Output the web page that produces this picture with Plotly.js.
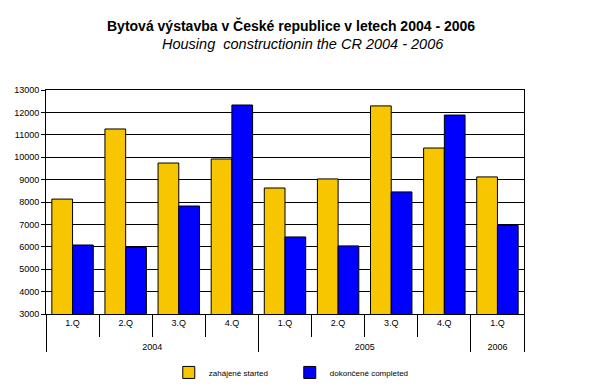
<!DOCTYPE html>
<html><head><meta charset="utf-8">
<script src="https://cdn.plot.ly/plotly-3.0.1.min.js"></script>
<style>body{margin:0;padding:0;background:#fff}#chart{width:600px;height:390px}</style>
</head><body><div id="chart"></div>
<script>
const years = ["2004","2004","2004","2004","2005","2005","2005","2005","2006"];
const quarters = ["1.Q","2.Q","3.Q","4.Q","1.Q","2.Q","3.Q","4.Q","1.Q"];
const started = [8130, 11260, 9740, 9920, 8625, 9030, 12290, 10410, 9120];
const completed = [6080, 5970, 7820, 12330, 6440, 6040, 8450, 11880, 6950];
const seriesNames = ["zahájené started", "dokončené completed"];
const titleLine1 = "Bytová výstavba v České republice v letech 2004 - 2006";
const titleLine2 = "Housing  constructionin the CR 2004 - 2006";

// quarter labels padded with an empty second line so the year row sits lower
const quarterLabels = quarters.map(q => q + "<br>\u00a0");

const font = "Liberation Sans, Arial, sans-serif";
const traces = [
  {type:"bar", name:seriesNames[0], x:[years, quarterLabels], y:started,
   marker:{color:"#F7C600", line:{color:"#000", width:1}}},
  {type:"bar", name:seriesNames[1], x:[years, quarterLabels], y:completed,
   marker:{color:"#0000FF", line:{color:"#000", width:1}}}
];
const layout = {
  width:600, height:390,
  margin:{l:46, r:76, t:90, b:76},
  paper_bgcolor:"#fff", plot_bgcolor:"#fff",
  font:{family:font, size:9, color:"#000"},
  bargap:0.22, bargroupgap:0,
  showlegend:true,
  legend:{orientation:"h", xref:"paper", x:0.51, xanchor:"center", yref:"container", y:0.045, yanchor:"middle",
          font:{size:8}, entrywidth:76, traceorder:"normal"},
  xaxis:{type:"multicategory", automargin:false, showline:true, linecolor:"#000", linewidth:1, mirror:true,
         ticks:"outside", tickson:"boundaries", ticklen:22, tickcolor:"#000",
         showdividers:true, dividercolor:"#000", dividerwidth:1,
         tickfont:{size:9}, showgrid:false},
  yaxis:{range:[3000,13000], dtick:1000, tickformat:"d", automargin:false, showline:true, linecolor:"#000", linewidth:1, mirror:true,
         ticks:"outside", ticklen:4, tickcolor:"#000", showgrid:true, gridcolor:"#000", gridwidth:1,
         tickfont:{size:9}, zeroline:false, fixedrange:true},
  annotations:[
    {text:"<b>"+titleLine1+"</b>", xref:"paper", yref:"paper", x:0.513, y:1.29, xanchor:"center", yanchor:"middle",
     showarrow:false, font:{size:14, family:font}},
    {text:"<i>"+titleLine2+"</i>", xref:"paper", yref:"paper", x:0.538, y:1.205, xanchor:"center", yanchor:"middle",
     showarrow:false, font:{size:14.5, family:font}}
  ]
};
Plotly.newPlot("chart", traces, layout, {displayModeBar:false, staticPlot:true});
</script></body></html>
